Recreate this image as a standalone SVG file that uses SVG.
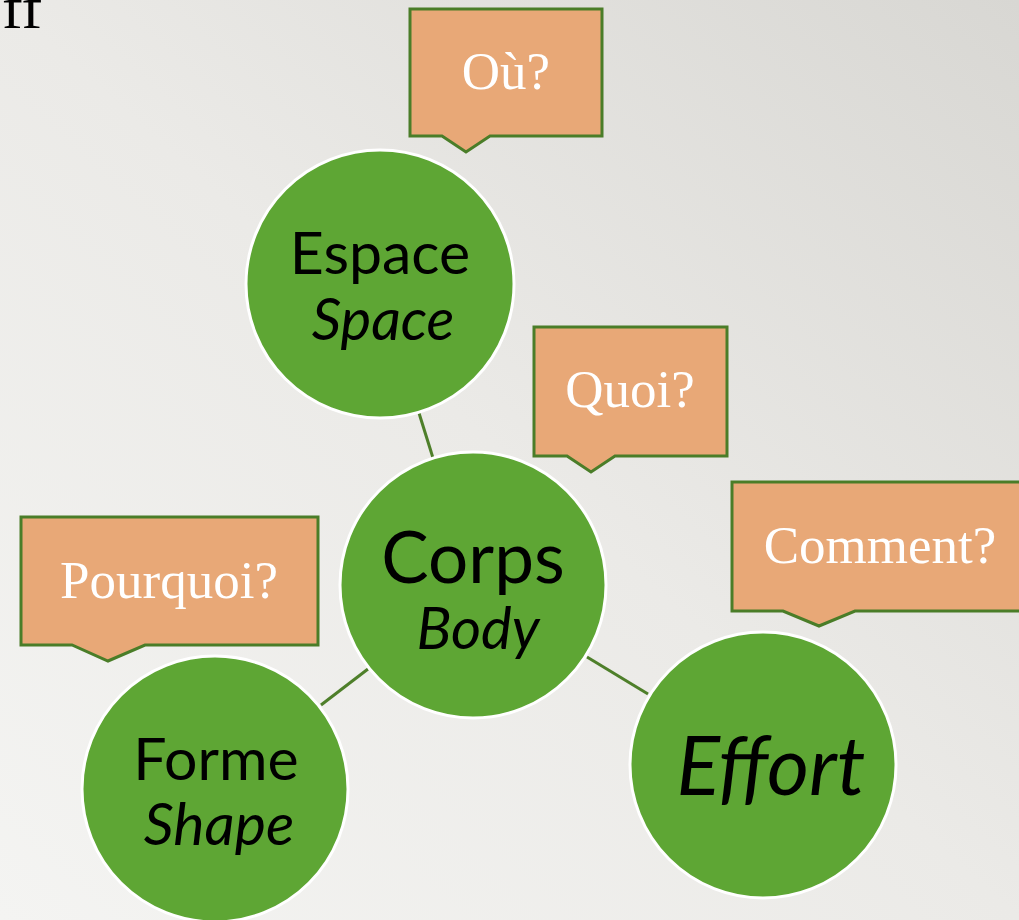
<svg xmlns="http://www.w3.org/2000/svg" width="1019" height="920" viewBox="0 0 1019 920">
  <defs>
    <linearGradient id="bg" x1="0" y1="1" x2="1" y2="0">
      <stop offset="0" stop-color="#f4f4f2"/>
      <stop offset="0.5" stop-color="#ebeae7"/>
      <stop offset="1" stop-color="#d8d7d3"/>
    </linearGradient>
  </defs>
  <style>
    .circ { fill: #5ea634; stroke: #ffffff; stroke-width: 3; }
    .call { fill: #e8a877; stroke: #4a7d28; stroke-width: 3; stroke-linejoin: miter; }
    .conn { stroke: #4e7f2a; stroke-width: 3; fill: none; }
    .ct { font-family: "Liberation Serif", "Times New Roman", serif; font-size: 53px; fill: #ffffff; text-anchor: middle; }
    .nt { font-family: Lato, "Open Sans", sans-serif; fill: #000000; text-anchor: middle; }
    .it { font-style: italic; }
  </style>
  <rect x="0" y="0" width="1019" height="920" fill="url(#bg)"/>
  <text x="2" y="28" font-family="Liberation Serif, serif" font-size="62" fill="#000">ff</text>

  <g id="connectors">
    <line class="conn" x1="419" y1="413" x2="433" y2="458"/>
    <line class="conn" x1="321" y1="705" x2="368" y2="669"/>
    <line class="conn" x1="587" y1="657" x2="648" y2="694"/>
  </g>

  <g id="node-espace">
    <circle class="circ" cx="380" cy="284" r="134"/>
    <text class="nt" x="380" y="274" font-size="59">Espace</text>
    <text class="nt it" x="383" y="340" font-size="58">Space</text>
  </g>
  <g id="node-corps">
    <circle class="circ" cx="473" cy="585" r="133"/>
    <text class="nt" x="473" y="583" font-size="71">Corps</text>
    <text class="nt it" x="478" y="649" font-size="58">Body</text>
  </g>
  <g id="node-forme">
    <circle class="circ" cx="215" cy="789" r="133"/>
    <text class="nt" x="216" y="780" font-size="59">Forme</text>
    <text class="nt it" x="219" y="845" font-size="59">Shape</text>
  </g>
  <g id="node-effort">
    <circle class="circ" cx="763" cy="765" r="133"/>
    <text class="nt it" x="771" y="795" font-size="81">Effort</text>
  </g>

  <g id="callout-ou">
    <path class="call" d="M410,9 H602 V136 H490 L466,152 L442,136 H410 Z"/>
    <text class="ct" x="506" y="89">Où?</text>
  </g>
  <g id="callout-quoi">
    <path class="call" d="M534,327 H727 V456 H615 L591,472 L567,456 H534 Z"/>
    <text class="ct" x="630" y="407">Quoi?</text>
  </g>
  <g id="callout-comment">
    <path class="call" d="M732,482 H1030 V611 H855 L819,626 L783,611 H732 Z"/>
    <text class="ct" x="880" y="563">Comment?</text>
  </g>
  <g id="callout-pourquoi">
    <path class="call" d="M21,517 H318 V645 H145 L108,661 L72,645 H21 Z"/>
    <text class="ct" x="169" y="598">Pourquoi?</text>
  </g>
</svg>
